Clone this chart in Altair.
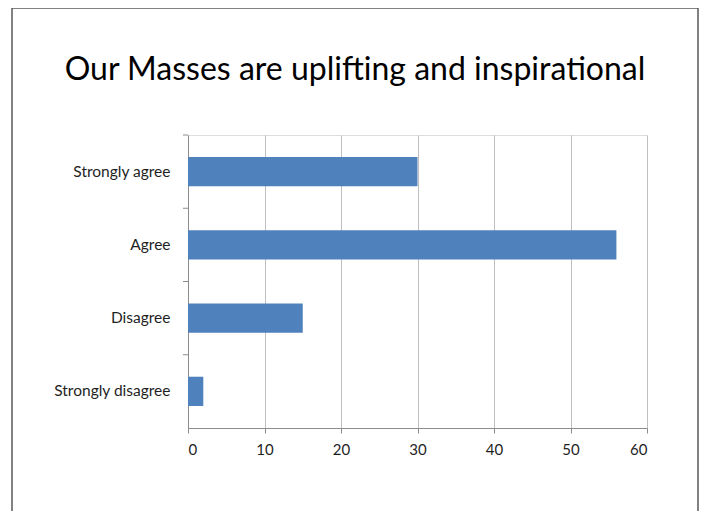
import altair as alt
import pandas as pd

categories = ["Strongly agree", "Agree", "Disagree", "Strongly disagree"]
values = [30, 56, 15, 2]
x_ticks = [0, 10, 20, 30, 40, 50, 60]
title_text = "Our Masses are uplifting and inspirational"

df = pd.DataFrame({"category": categories, "value": values})

FONT = "Lato"
W, H = 459, 293

bars = alt.Chart(df).mark_bar(color="#4F81BD").encode(
    x=alt.X("value:Q", scale=alt.Scale(domain=[0, 60], nice=False),
            axis=alt.Axis(values=x_ticks, title=None, grid=True, gridColor="#BFBFBF",
                          domainColor="#8C8C8C", tickColor="#8C8C8C", tickSize=5,
                          labelPadding=9, labelFontSize=15, labelFont=FONT,
                          labelColor="#1F1F1F")),
    y=alt.Y("category:N", sort=None,
            scale=alt.Scale(type="band", paddingInner=0.6, paddingOuter=0.3),
            axis=alt.Axis(title=None, ticks=False, domainColor="#8C8C8C",
                          labelPadding=18, labelFontSize=15.5, labelFont=FONT,
                          labelColor="#1F1F1F")),
)

ticks = alt.Chart(df).mark_rule(color="#8C8C8C", strokeWidth=1).encode(
    y=alt.Y("category:N", sort=None, bandPosition=0,
            scale=alt.Scale(type="band", paddingInner=0, paddingOuter=0),
            axis=None),
    x=alt.value(-5),
    x2=alt.value(0),
)

frame = alt.Chart(alt.Data(values=[{"a": 1}])).mark_rect(
    fillOpacity=0, stroke="#595959", strokeWidth=1.5
).encode(
    x=alt.value(-176), x2=alt.value(510), y=alt.value(-127), y2=alt.value(385)
)

title = alt.Chart(alt.Data(values=[{"t": title_text}])).mark_text(
    font=FONT, fontSize=32, color="#000000", align="center", baseline="alphabetic"
).encode(
    text="t:N", x=alt.value(167), y=alt.value(-55)
)

chart = alt.layer(frame, title, bars, ticks).resolve_scale(y="independent").properties(
    width=W, height=H,
    autosize=alt.AutoSizeParams(type="none"),
    padding={"left": 180, "top": 127, "right": 52, "bottom": 83},
).configure_view(stroke=None).configure(background="white")

chart.save("out.html", embed_options={"renderer": "svg", "actions": False})
